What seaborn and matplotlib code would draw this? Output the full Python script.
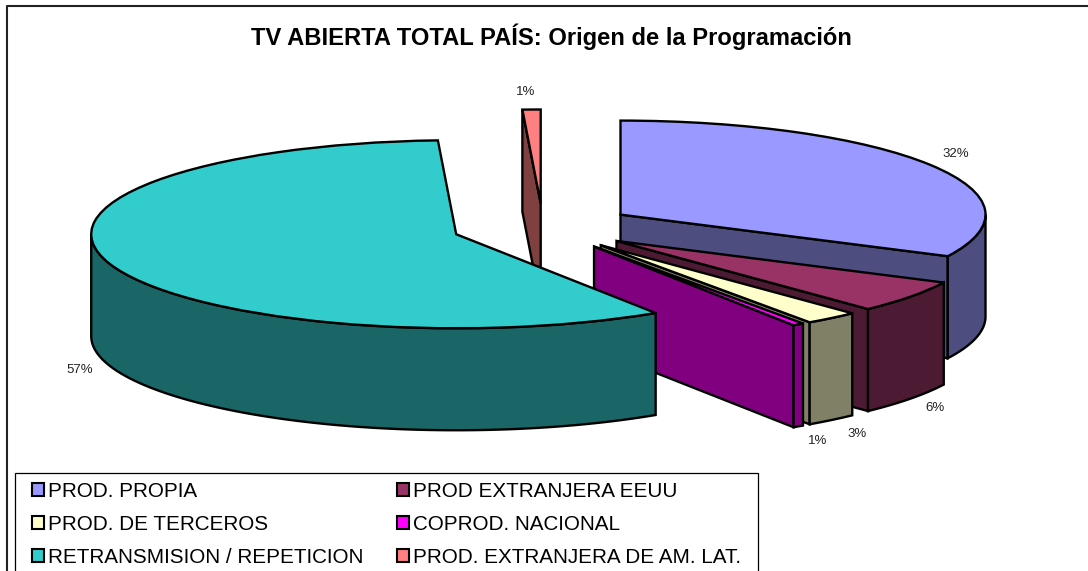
import numpy as np
import matplotlib
matplotlib.use("Agg")
import matplotlib.pyplot as plt
from matplotlib.colors import to_rgb
from matplotlib.patches import Patch
import seaborn as sns

# ── Data ─────────────────────────────────────────────────────────────────────
CATEGORIES = ["PROD. PROPIA", "PROD EXTRANJERA EEUU", "PROD. DE TERCEROS",
              "COPROD. NACIONAL", "RETRANSMISION / REPETICION",
              "PROD. EXTRANJERA DE AM. LAT."]
# slice sizes as drawn, labels as printed on it
SIZES = [32.3, 5.6, 2.4, 0.5, 58.4, 0.8]
PCT_LABELS = ["32%", "6%", "3%", "1%", "57%", "1%"]
COLORS = ["#9999FF", "#993366", "#FFFFCC", "#FF00FF", "#33CCCC", "#FF8080"]
TITLE = "TV ABIERTA TOTAL PAÍS: Origen de la Programación"

# ── Layout (pixels of the 1088x571 picture) ──────────────────────────────────
W, H = 1088, 571
CX, CY = 543, 227     # centre of the unexploded pie
RX, RY = 365, 94      # ellipse radii
DEPTH = 102 / RY      # wall height in data units
LW = 1.7
LABEL_PX = [(956, 154), (935, 408), (857, 434), (818, 441), (80, 370), (526, 92)]
DRAW_ORDER = [5, 0, 1, 2, 3, 4]   # back to front

sns.set_theme(style="white")
plt.rcParams["font.family"] = ["Liberation Sans", "DejaVu Sans"]

fig = plt.figure(figsize=(W / 100, H / 100), dpi=100, facecolor="white")
ax = fig.add_axes([0, 0, 1, 1])

wedges, _ = ax.pie(SIZES, colors=COLORS, startangle=90, counterclock=False,
                   explode=[0.25] * len(SIZES), radius=1,
                   wedgeprops={"edgecolor": "black", "linewidth": LW, "joinstyle": "miter"})

ax.set_aspect("auto")
ax.set_xlim(-CX / RX, (W - CX) / RX)
ax.set_ylim(-(H - CY) / RY, CY / RY)
ax.axis("off")


def wall(x, y, color, z):
    # extrude an open line downwards by the pie depth
    xs = np.r_[x, x[::-1]]
    ys = np.r_[y, y[::-1] - DEPTH]
    ax.fill(xs, ys, facecolor=color, edgecolor="black", linewidth=LW,
            joinstyle="miter", zorder=z)


def cut_face(wedge, angle, color, z):
    a = np.radians(angle)
    x0, y0 = wedge.center
    wall(np.array([x0, x0 + np.cos(a)]), np.array([y0, y0 + np.sin(a)]), color, z)


for z, i in enumerate(DRAW_ORDER):
    w = wedges[i]
    dark = tuple(np.array(to_rgb(COLORS[i])) * 0.5)
    base = 10 * (z + 1)
    t1 = w.theta1 % 360
    t2 = t1 + (w.theta2 - w.theta1)
    # only the cut faces turned towards the viewer
    if np.cos(np.radians(t1)) > 0:
        cut_face(w, t1, dark, base)
    if np.cos(np.radians(t2)) < 0:
        cut_face(w, t2, dark, base)
    # outer wall, lower half of the ellipse only
    lo, hi = max(t1, 180), min(t2, 360)
    if hi > lo:
        t = np.radians(np.linspace(lo, hi, 80))
        wall(w.center[0] + np.cos(t), w.center[1] + np.sin(t), dark, base + 1)
    w.set_zorder(base + 2)

for (px, py), txt in zip(LABEL_PX, PCT_LABELS):
    ax.text((px - CX) / RX, -(py - CY) / RY, txt, fontsize=9.5, color="#222222",
            ha="center", va="center", zorder=200)

ax.text((551 - CX) / RX, -(37 - CY) / RY, TITLE, fontsize=17.1, fontweight="bold",
        color="black", ha="center", va="center", zorder=200)

# chart border, only top and left fall inside the picture
ax.plot([(W + 5 - CX) / RX, (7 - CX) / RX, (7 - CX) / RX],
        [-(6 - CY) / RY, -(6 - CY) / RY, -(H + 5 - CY) / RY],
        color="#222222", linewidth=1.5, zorder=250)

# legend box runs off the bottom of the picture
fig.add_artist(plt.Rectangle((15 / W, -0.1), (758 - 15) / W, 0.1 + 1 - 473 / H,
                             facecolor="white", edgecolor="black", linewidth=0.9,
                             transform=fig.transFigure, zorder=290))

# legend fills columns first, the picture reads by rows
order = [0, 2, 4, 1, 3, 5]
handles = [Patch(facecolor=COLORS[i], edgecolor="black", linewidth=1.5) for i in order]
leg = fig.legend(handles, [CATEGORIES[i] for i in order], ncol=2, fontsize=14.9,
                 loc="upper left", bbox_to_anchor=(32 / W, 1 - 482 / H),
                 frameon=False, labelcolor="black",
                 handlelength=0.58, handleheight=0.58, handletextpad=0.2,
                 columnspacing=1.6, labelspacing=0.68, borderpad=0, borderaxespad=0)
leg.set_zorder(300)

fig.savefig("out.png", dpi=100)
